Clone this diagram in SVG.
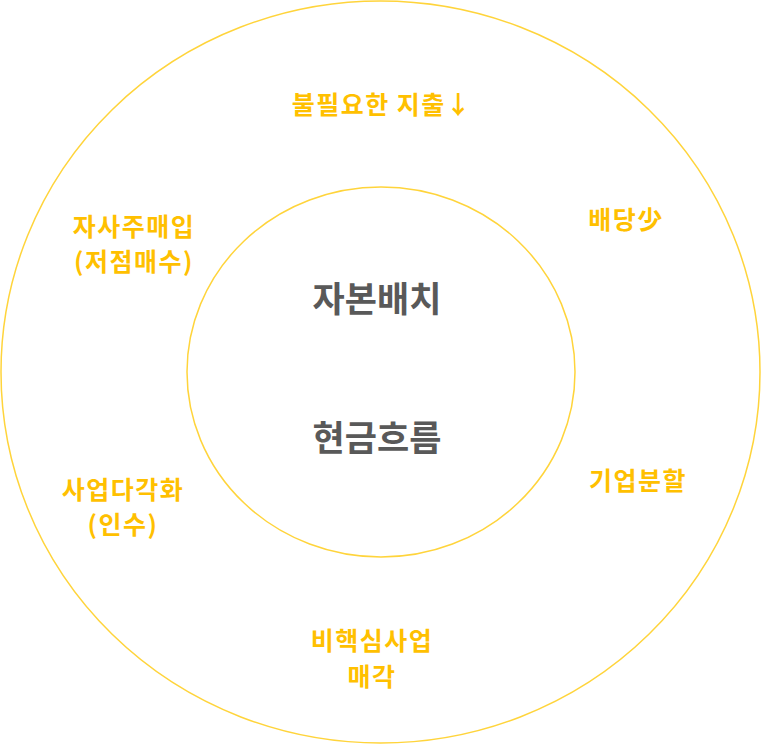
<svg xmlns="http://www.w3.org/2000/svg" width="762" height="745" viewBox="0 0 762 745">
<style>
.ring{fill:none;stroke:#FFD43B;stroke-width:1.5}
.lbl{font-family:"Noto Sans CJK KR","Noto Sans",sans-serif;font-size:25px;font-weight:bold;letter-spacing:1.5px;fill:#FFC000;text-anchor:middle;dominant-baseline:central}
.core{font-family:"Noto Sans CJK KR","Noto Sans",sans-serif;font-size:35px;font-weight:bold;fill:#595959;text-anchor:middle;dominant-baseline:central}
</style>
<rect width="762" height="745" fill="#ffffff"/>
<g id="outer-ring"><ellipse class="ring" cx="380.5" cy="372" rx="379.5" ry="371"/></g>
<g id="inner-ring"><ellipse class="ring" cx="381" cy="372" rx="194" ry="185"/></g>
<g id="core">
<text class="core" x="377" y="296">자본배치</text>
<text class="core" x="377" y="435">현금흐름</text>
</g>
<g id="n-spend"><text class="lbl" x="382" y="103">불필요한 지출↓</text></g>
<g id="n-dividend"><text class="lbl" x="626" y="218">배당少</text></g>
<g id="n-buyback"><text class="lbl" x="134" y="225">자사주매입</text><text class="lbl" x="134" y="260">(저점매수)</text></g>
<g id="n-diversify"><text class="lbl" x="123" y="488">사업다각화</text><text class="lbl" x="123" y="523">(인수)</text></g>
<g id="n-split"><text class="lbl" x="638" y="479">기업분할</text></g>
<g id="n-divest"><text class="lbl" x="372" y="639">비핵심사업</text><text class="lbl" x="372" y="675">매각</text></g>
<g id="connectors"></g>
</svg>
